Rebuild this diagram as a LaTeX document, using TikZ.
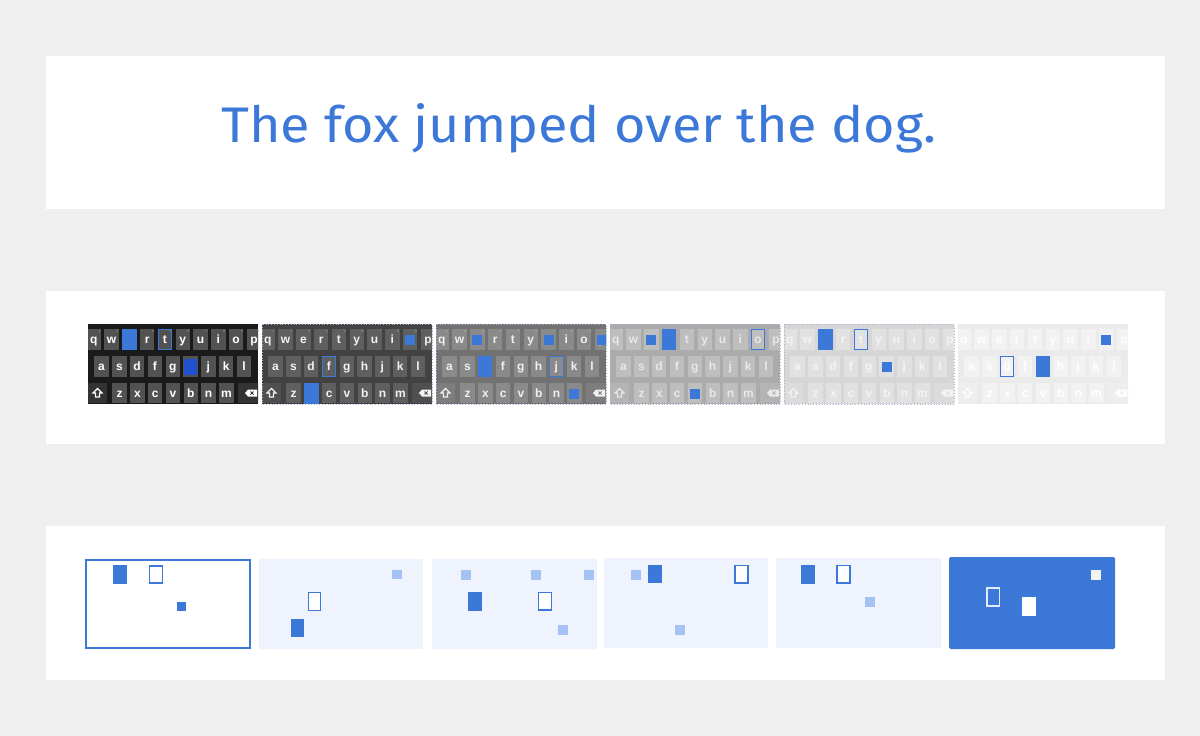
\documentclass[tikz,border=0pt]{standalone}
\usepackage{fontspec}
\setmainfont{Liberation Sans}
\newfontfamily\titlefont{Fira Sans}
\newfontfamily\keyfont{Liberation Sans}
\definecolor{pagebg}{HTML}{EFEFEF}
\definecolor{gblue}{HTML}{3C78D8}
\definecolor{lblue}{HTML}{A4C2F4}
\definecolor{pblue}{HTML}{EEF3FD}
\definecolor{dblue}{HTML}{1E50D0}
\definecolor{dotc}{HTML}{9FB3D9}
\definecolor{bgA}{HTML}{1A1A1A}\definecolor{kA}{HTML}{525252}\definecolor{tA}{HTML}{FFFFFF}
\definecolor{bgB}{HTML}{424242}\definecolor{kB}{HTML}{5F5F5F}\definecolor{tB}{HTML}{F2F2F2}
\definecolor{bgC}{HTML}{727272}\definecolor{kC}{HTML}{8A8A8A}\definecolor{tC}{HTML}{F0F0F0}
\definecolor{bgD}{HTML}{ABABAB}\definecolor{kD}{HTML}{BEBEBE}\definecolor{tD}{HTML}{E8E8E8}
\definecolor{bgE}{HTML}{D6D6D6}\definecolor{kE}{HTML}{E1E1E1}\definecolor{tE}{HTML}{F4F4F4}
\definecolor{bgF}{HTML}{EBEBEB}\definecolor{kF}{HTML}{F2F2F2}\definecolor{tF}{HTML}{FFFFFF}
\tikzset{
  keyl/.style={inner sep=0pt, anchor=base, font=\keyfont\bfseries\fontsize{12}{13}\selectfont},
  hint/.style={inner sep=0pt, anchor=north east, font=\keyfont\fontsize{3.5}{4}\selectfont},
  panel/.style={fill=white},
  smallsq/.style={fill=lblue},
  bigfill/.style={fill=gblue},
  bigout/.style={draw=gblue, line width=1.6pt, fill=white},
}
% keyboard: #1 name, #2 x0, #3 bg, #4 key, #5 letter
\newcommand\drawkbd[5]{%
  \begin{scope}[shift={(#2,324)}]
    \fill[#3] (0,0) rectangle (170,80);
    \begin{scope}
      \clip (0,0) rectangle (170,80);
      \foreach \l/\d [count=\i from 0] in {q/1,w/2,e/3,r/4,t/5,y/6,u/7,i/8,o/9,p/0} {
        \fill[#4] ({-1.5+17.8*\i},5) rectangle ++(14.5,21);
        \node[keyl,text=#5] (#1-\l) at ({5.75+17.8*\i},19.8) {\l};
        \node[hint,text=#5!45!#4] (#1-h\d) at ({12.6+17.8*\i},5.6) {\d};
      }
      \foreach \l [count=\i from 0] in {a,s,d,f,g,h,j,k,l} {
        \fill[#4] ({6.3+17.8*\i},32) rectangle ++(14.5,21);
        \node[keyl,text=#5] (#1-\l) at ({13.55+17.8*\i},46.8) {\l};
      }
      \foreach \l [count=\i from 0] in {z,x,c,v,b,n,m} {
        \fill[#4] ({24.3+17.8*\i},59) rectangle ++(14.5,20);
        \node[keyl,text=#5] (#1-\l) at ({31.55+17.8*\i},73.3) {\l};
      }
      \fill[#4!45!#3] (0,59) rectangle (18.5,79);
      \fill[#4!45!#3] (150,59) rectangle (172,79);
      \draw[#5, line width=1.1pt, line join=miter]
        (5,69) -- (9.5,64.5) -- (14,69) -- (11.5,69) -- (11.5,73) -- (7.5,73) -- (7.5,69) -- cycle;
      \fill[#5] (157,69) -- (160,65.5) -- (169,65.5) -- (169,72.5) -- (160,72.5) -- cycle;
      \draw[#4!45!#3, line width=0.8pt] (162.5,67.5) -- (165.5,70.5) (162.5,70.5) -- (165.5,67.5);
    \end{scope}
  \end{scope}}
\newcommand\keypos[3]{%
  \pgfmathsetmacro\kl{#1+ifthenelse(#2==1,-1.5,ifthenelse(#2==2,6.3,24.3))+17.8*#3}%
  \pgfmathsetmacro\kt{324+ifthenelse(#2==1,5,ifthenelse(#2==2,32,59))}}
\newcommand\kfill[3]{\keypos{#1}{#2}{#3}\fill[gblue] (\kl,\kt) rectangle ++(14.5,21);}
\newcommand\kout[3]{\keypos{#1}{#2}{#3}\draw[gblue, line width=1pt] ({\kl+0.5},{\kt+0.5}) rectangle ++(13.5,20);}
\newcommand\ksmall[3]{\keypos{#1}{#2}{#3}\fill[gblue] ({\kl+2.25},{\kt+5.5}) rectangle ++(10,10);}
\begin{document}
\begin{tikzpicture}[x=1pt,y=-1pt]
\useasboundingbox (0,0) rectangle (1200,736);
\fill[pagebg] (0,0) rectangle (1200,736);
\fill[panel] (46,56) rectangle (1165,209);
\fill[panel] (46,291) rectangle (1165,444);
\fill[panel] (46,526) rectangle (1165,680);

\node[anchor=base west, inner sep=0pt, text=gblue, font=\titlefont\fontsize{50}{60}\selectfont] (title) at (221,142) {\scalebox{1.08}[1]{The fox jumped over the dog.}};

% keyboards
\drawkbd{ka}{88}{bgA}{kA}{tA}
\drawkbd{kb}{262}{bgB}{kB}{tB}
\drawkbd{kc}{436}{bgC}{kC}{tC}
\drawkbd{kd}{610}{bgD}{kD}{tD}
\drawkbd{ke}{784}{bgE}{kE}{tE}
\drawkbd{kf}{958}{bgF}{kF}{tF}
\foreach \x in {262,436,610,784}
  \draw[dotc, dotted, line width=0.8pt] (\x,324) rectangle ++(170,80);

% highlights K1
\kfill{88}{1}{2}
\kout{88}{1}{4}
\keypos{88}{2}{5}\fill[dblue] ({\kl+1},{\kt+2.5}) rectangle ++(12.5,16.5);
% K2
\ksmall{262}{1}{8}
\kout{262}{2}{3}
\kfill{262}{3}{1}
% K3
\ksmall{436}{1}{2}
\ksmall{436}{1}{6}
\begin{scope}\clip (436,324) rectangle ++(170,80); \ksmall{436}{1}{9} \end{scope}
\kfill{436}{2}{2}
\kout{436}{2}{6}
\ksmall{436}{3}{6}
% K4
\ksmall{610}{1}{2}
\kfill{610}{1}{3}
\kout{610}{1}{8}
\ksmall{610}{3}{3}
% K5
\kfill{784}{1}{2}
\kout{784}{1}{4}
\ksmall{784}{2}{5}
% K6
\ksmall{958}{1}{8}
\kout{958}{2}{2}
\kfill{958}{2}{4}

% bottom abstract panels
% P1
\draw[gblue, line width=2pt, fill=white] (86,559.5) rectangle (249.5,648);
\fill[bigfill] (113.3,565) rectangle (127.3,583.5);
\draw[bigout] (149.5,566) rectangle (162.5,583);
\fill[gblue] (176.7,601.7) rectangle (186,610.7);
% P2
\fill[pblue] (259,559) rectangle (423.3,649);
\fill[smallsq] (392.3,570) rectangle (401.7,579.3);
\draw[bigout] (308.5,592.5) rectangle (320.5,610.5);
\fill[bigfill] (291,618.7) rectangle (304.3,637.3);
% P3
\fill[pblue] (431.7,559) rectangle (596.7,649);
\fill[smallsq] (461,570) rectangle (471,579.5);
\fill[smallsq] (531,570) rectangle (541,579.5);
\fill[smallsq] (584.3,570) rectangle (594.3,579.5);
\fill[bigfill] (467.7,591.7) rectangle (482.3,610.7);
\draw[bigout] (538.5,592.5) rectangle (551.5,610);
\fill[smallsq] (558.3,625.3) rectangle (568.3,635);
% P4
\fill[pblue] (604,558.3) rectangle (768.3,648.3);
\fill[smallsq] (631,570) rectangle (641,579.5);
\fill[bigfill] (647.7,565) rectangle (661.7,583);
\draw[bigout] (735,565.5) rectangle (748,583);
\fill[smallsq] (675,625) rectangle (685,635);
% P5
\fill[pblue] (776,558.3) rectangle (940.7,648.3);
\fill[bigfill] (801,565) rectangle (815,584);
\draw[bigout] (837,565.5) rectangle (850,583);
\fill[smallsq] (865,596.7) rectangle (875,606.7);
% P6
\fill[gblue, rounded corners=1.5pt] (949,557) rectangle (1115,649);
\fill[white!95!black] (1090.7,570) rectangle (1100.7,579.5);
\draw[white!85!gblue, line width=1.4pt] (987,588) rectangle (999.5,606);
\fill[white] (1021.7,596.7) rectangle (1035.7,615.7);
\end{tikzpicture}
\end{document}
